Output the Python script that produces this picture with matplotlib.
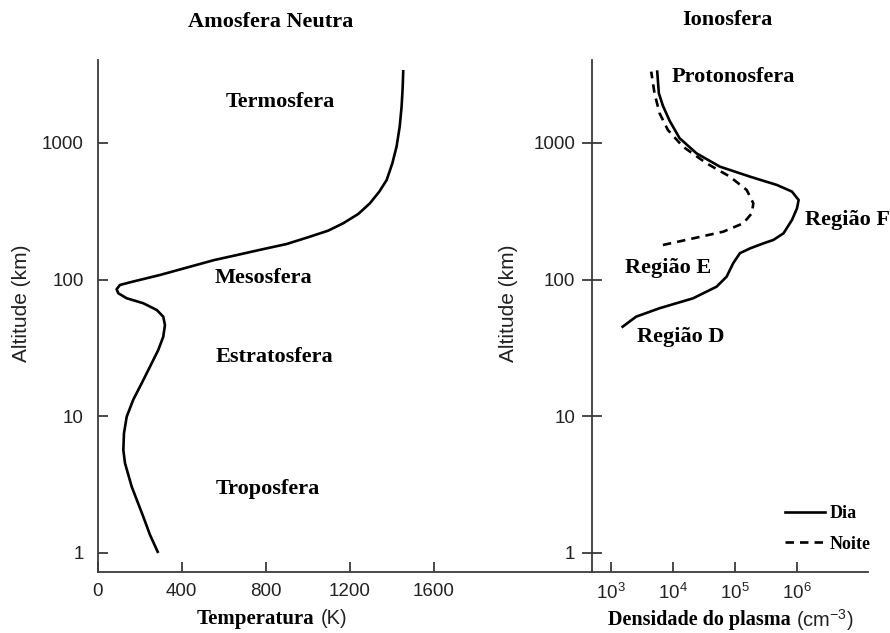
import matplotlib
matplotlib.use("Agg")
import matplotlib.pyplot as plt
from matplotlib.ticker import NullLocator, FixedLocator, FixedFormatter

plt.rcParams['mathtext.default'] = 'regular'
SANS = 'Liberation Sans'
SERIF = 'Liberation Serif'

# ---- Data ----
# Neutral atmosphere: altitude (km) vs temperature (K)
alt_neutral = [1.0, 1.355, 1.84, 3.05, 4.53, 5.67, 7.51, 9.93, 13.2, 17.4, 23.1,
               30.5, 38.2, 46.5, 53.5, 59.9, 67.1, 73, 79.4, 85, 91.3, 95.5, 108,
               139, 151, 165, 182, 206, 228, 258, 302, 361, 440, 535,
               709, 938, 1315, 1841, 2510, 3412]
temp_neutral = [288, 249, 217, 162, 130, 122, 125, 138, 169, 209, 249,
                288, 312, 320, 312, 281, 217, 138, 98, 90, 106, 154, 296,
                555, 661, 772, 899, 1010, 1097, 1168, 1240, 1295, 1340, 1375,
                1402, 1422, 1437, 1446, 1451, 1454]

# Ionosphere, day: altitude (km) vs log10 of plasma density (cm^-3)
alt_day = [45.2, 53.5, 61.7, 72.9, 88.7, 105, 132, 156, 169, 184, 195, 218,
           273, 332, 382, 440, 492, 566, 670, 839, 1081, 1452, 1871, 2306, 3319]
logn_day = [3.188, 3.405, 3.783, 4.323, 4.703, 4.865, 4.972, 5.08, 5.242, 5.458,
            5.62, 5.783, 5.919, 6.0, 6.026, 5.919, 5.676, 5.242, 4.756, 4.378,
            4.107, 3.945, 3.837, 3.772, 3.746]

# Ionosphere, night
alt_night = [179, 200, 224, 258, 305, 361, 452, 566, 709, 938, 1242, 1648, 2306, 3319]
logn_night = [3.837, 4.323, 4.81, 5.134, 5.27, 5.296, 5.189, 4.918, 4.54, 4.161,
              3.918, 3.783, 3.702, 3.649]

alt_ticks = [1, 10, 100, 1000]
alt_ticklabels = ['1', '10', '100', '1000']
temp_ticks = [0, 400, 800, 1200, 1600]
dens_ticks = [1e3, 1e4, 1e5, 1e6]
dens_ticklabels = ['$10^3$', '$10^4$', '$10^5$', '$10^6$']

W, H = 890, 633
fig = plt.figure(figsize=(W / 100, H / 100), dpi=100)


def px(x, y):
    return x / W, 1 - y / H


spine_col = '#3a3a3a'
top_px, bot_px = 60, 572
ylim = (0.726, 4037)

# Left axes
x0, x1 = 97.7, 592
axL = fig.add_axes([x0 / W, 1 - bot_px / H, (x1 - x0) / W, (bot_px - top_px) / H])
axL.set_yscale('log')
axL.set_ylim(*ylim)
axL.set_xlim(0, 2352)
axL.plot(temp_neutral, alt_neutral, color='black', lw=1.9,
         solid_joinstyle='round', solid_capstyle='butt')

# Right axes
r0, r1 = 592, 868
axR = fig.add_axes([r0 / W, 1 - bot_px / H, (r1 - r0) / W, (bot_px - top_px) / H])
axR.set_yscale('log')
axR.set_xscale('log')
axR.set_ylim(*ylim)
axR.set_xlim(10 ** 2.694, 10 ** 7.145)
axR.plot([10 ** v for v in logn_day], alt_day, color='black', lw=1.9,
         solid_joinstyle='round', label='Dia')
axR.plot([10 ** v for v in logn_night], alt_night, color='black', lw=1.9,
         dashes=(3.2, 2.3), label='Noite')

for ax in (axL, axR):
    for s in ('top', 'right'):
        ax.spines[s].set_visible(False)
    for s in ('left', 'bottom'):
        ax.spines[s].set_color(spine_col)
        ax.spines[s].set_linewidth(1.3)
    ax.yaxis.set_major_locator(FixedLocator(alt_ticks))
    ax.yaxis.set_major_formatter(FixedFormatter(alt_ticklabels))
    ax.yaxis.set_minor_locator(NullLocator())
    ax.xaxis.set_minor_locator(NullLocator())
    for lab in ax.get_xticklabels() + ax.get_yticklabels():
        lab.set_fontfamily(SANS)
    ax.tick_params(colors=spine_col, labelcolor='#222222', labelsize=13.5,
                   width=1.3, length=7)
    ax.set_facecolor('none')

axL.set_xticks(temp_ticks)
axL.set_xticklabels([str(t) for t in temp_ticks], fontfamily=SANS)
axL.tick_params(axis='both', direction='in', pad=8)
axL.tick_params(axis='y', pad=10)

axR.set_xticks(dens_ticks)
axR.set_xticklabels(dens_ticklabels, fontfamily=SANS)
axR.xaxis.set_minor_locator(NullLocator())
axR.tick_params(axis='x', direction='in', pad=8)
axR.tick_params(axis='y', direction='inout', length=14, pad=5)

# Y labels
fig.text(*px(22, 303), 'Altitude (km)', rotation=90, ha='center', va='center',
         fontsize=15, fontfamily=SANS, color='#222222')
fig.text(*px(509, 303), 'Altitude (km)', rotation=90, ha='center', va='center',
         fontsize=15, fontfamily=SANS, color='#222222')

# X labels (mixed fonts)
fig.text(*px(314, 619), 'Temperatura', ha='right', va='center', fontsize=15,
         fontfamily=SERIF, fontweight='bold')
fig.text(*px(321, 619), '(K)', ha='left', va='center', fontsize=14.5,
         fontfamily=SANS, color='#222222')
fig.text(*px(791, 620), 'Densidade do plasma', ha='right', va='center', fontsize=14.5,
         fontfamily=SERIF, fontweight='bold')
fig.text(*px(796, 620), '(cm$^{-3}$)', ha='left', va='center', fontsize=14.5,
         fontfamily=SANS, color='#222222')

# Titles
fig.text(*px(271, 22), 'Amosfera Neutra', ha='center', va='center', fontsize=16,
         fontfamily=SERIF, fontweight='bold')
fig.text(*px(727, 20), 'Ionosfera', ha='center', va='center', fontsize=16,
         fontfamily=SERIF, fontweight='bold')

# Region labels
region_kw = dict(fontsize=16, fontfamily=SERIF, fontweight='bold', va='center')
fig.text(*px(280, 102), 'Termosfera', ha='center', **region_kw)
fig.text(*px(263, 278), 'Mesosfera', ha='center', **region_kw)
fig.text(*px(274, 357), 'Estratosfera', ha='center', **region_kw)
fig.text(*px(268, 489), 'Troposfera', ha='center', **region_kw)
fig.text(*px(733, 77), 'Protonosfera', ha='center', **region_kw)
fig.text(*px(805, 220), 'Região F', ha='left', **region_kw)
fig.text(*px(625, 268), 'Região E', ha='left', **region_kw)
fig.text(*px(637, 337), 'Região D', ha='left', **region_kw)

# Legend
leg = axR.legend(loc='upper left', bbox_to_anchor=px(785, 505),
                 bbox_transform=fig.transFigure, frameon=False,
                 prop={'family': SERIF, 'weight': 'bold', 'size': 13},
                 handlelength=2.2, handletextpad=0.3, labelspacing=0.75,
                 borderpad=0, borderaxespad=0)

fig.savefig('out.png', dpi=100, facecolor='white')
